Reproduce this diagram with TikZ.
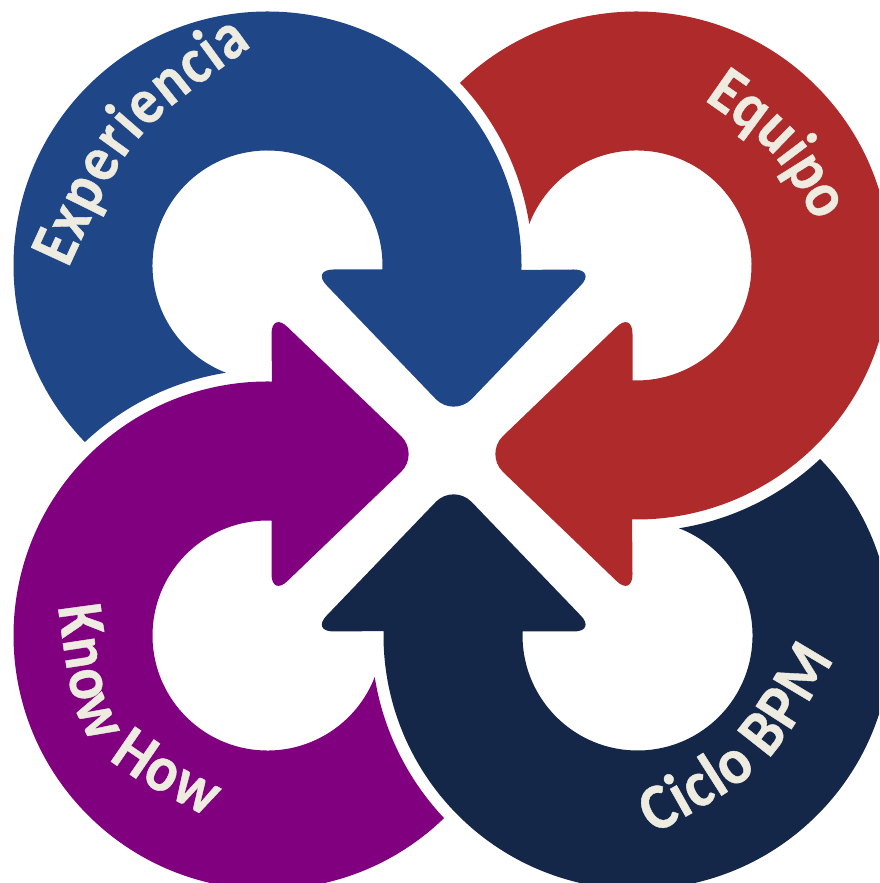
\documentclass[tikz,border=0pt]{standalone}
\usepackage{fontspec}
\setmainfont{Carlito}
\newfontfamily\narrowA{Carlito}[FakeStretch=0.89,FakeBold=0.6]
\newfontfamily\narrowC{Carlito}[FakeStretch=0.92,FakeBold=0.6]
\usetikzlibrary{decorations.text}
\definecolor{arrowblue}{HTML}{1F4788}
\definecolor{arrowred}{HTML}{AE2A2B}
\definecolor{arrownavy}{HTML}{142748}
\definecolor{arrowpurple}{HTML}{800080}
\definecolor{cream}{HTML}{EEECE1}
\newcommand{\lblfont}[1]{\color{cream}#1\bfseries\fontsize{65.5}{65.5}\selectfont}
\newcommand{\loopdrawing}[2]{%
  \fill[#1] (-185,185) ++(224.04:254)
    arc[start angle=224.04,end angle=-1,radius=254]
    -- ({#2+120},181)
    .. controls ({#2+132.7},181) and ({#2+135.7},173.7) .. ({#2+126.7},164.7)
    -- ({#2+17.7},51.2)
    .. controls ({#2+7.9},41.4) and ({#2-7.9},41.4) .. ({#2-17.7},51.2)
    -- ({#2-126.7},164.7)
    .. controls ({#2-135.7},173.7) and ({#2-132.7},181) .. ({#2-120},181)
    -- (-70.1,181)
    arc[start angle=-2,end angle=248.85,radius=115]
    arc[start angle=98.98,end angle=133.35,radius=266]
    -- cycle;}
\tikzset{
  arclabel/.style 2 args={decorate,decoration={text along path,
    text={|\lblfont{#1}|#2},text align={fit to path}}}
}
\begin{document}
\begin{tikzpicture}[x=1pt,y=1pt]
\useasboundingbox (0,0) rectangle (879,883);
\clip (0,0) rectangle (879,883);
\begin{scope}[shift={(452.5,432.5)}]
  \begin{scope}\loopdrawing{arrowblue}{1.2}\end{scope}
  \begin{scope}[xshift=-1pt,rotate=-90]\loopdrawing{arrowred}{3.5}\end{scope}
  \begin{scope}[rotate=180]\loopdrawing{arrownavy}{-1.2}\end{scope}
  \begin{scope}[rotate=90]\loopdrawing{arrowpurple}{-3.5}\end{scope}
\end{scope}
\path[arclabel={\narrowA}{Experiencia}] (68.3,614.7) .. controls (130,749) .. (252,837);
\path[arclabel={\narrowA}{Equipo}] (704,783) .. controls (773.6,734.5) .. (816,661);
\path[arclabel={\narrowA}{Know{\kern 0.3em}How}] (58,276) .. controls (77,134) .. (207,66);
\path[arclabel={\narrowC}{Ciclo BPM}] (654,48.7) .. controls (767.9,111.8) .. (834.3,223.7);
\end{tikzpicture}
\end{document}
